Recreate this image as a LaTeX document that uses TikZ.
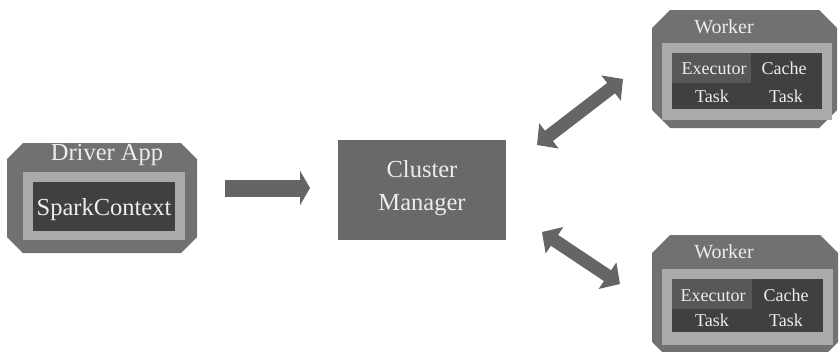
\documentclass[tikz,border=0pt]{standalone}
\usepackage{fontspec}
\setmainfont{Liberation Serif}
\newfontfamily\tnr{Liberation Serif}
\usetikzlibrary{arrows.meta}
\definecolor{outerg}{HTML}{717171}
\definecolor{frameg}{HTML}{AAAAAA}
\definecolor{darkg}{HTML}{404040}
\definecolor{execg}{HTML}{575757}
\definecolor{cmg}{HTML}{696969}
\definecolor{arrg}{HTML}{656565}
\definecolor{txtg}{HTML}{EDEDED}
\newcommand\octobox[6]{%
  \fill[#5] ({#1+#6},#2) -- ({#3-#6},#2) -- (#3,{#2+#6}) -- (#3,{#4-#6}) --
  ({#3-#6},#4) -- ({#1+#6},#4) -- (#1,{#4-#6}) -- (#1,{#2+#6}) -- cycle;}
\tikzset{
  lbl/.style={text=txtg, inner sep=0pt, anchor=base},
  big/.style={font=\tnr\fontsize{24.5}{30}\selectfont},
  mid/.style={font=\tnr\fontsize{20}{24}\selectfont},
  small/.style={font=\tnr\fontsize{18}{22}\selectfont},
  fatarrow/.style={draw=arrg, line width=17pt, -{Triangle[length=10pt,width=34pt]}},
  dblarrow/.style={draw=arrg, line width=13pt, {Triangle[length=15pt,width=31pt]}-{Triangle[length=15pt,width=31pt]}},
}
\begin{document}
\begin{tikzpicture}[x=1pt,y=-1pt]
\useasboundingbox[fill=white] (0,0) rectangle (840,351);
% Driver App
\octobox{7}{143}{197}{253}{outerg}{16}
\fill[frameg] (23,172) rectangle (185,240);
\fill[darkg] (33,182) rectangle (175,231);
\node[lbl,big] (drvlbl) at (107,160) {Driver App};
\node[lbl,big] (sc) at (104,215) {SparkContext};
% Cluster Manager
\node[fill=cmg, minimum width=168pt, minimum height=100pt, inner sep=0pt] (cm) at (422,190) {};
\node[lbl,big] (cm1) at (422,177) {Cluster};
\node[lbl,big] (cm2) at (422,210) {Manager};
% Worker top
\octobox{652}{10}{837}{128}{outerg}{18}
\fill[frameg] (662,43) rectangle (832,120);
\fill[darkg] (672,53) rectangle (822,109);
\fill[execg] (672,53) rectangle (751,83);
\node[lbl,mid] (w1) at (724,33) {Worker};
\node[lbl,small] (e1) at (714,74) {Executor};
\node[lbl,small] (c1) at (784,74) {Cache};
\node[lbl,small] (t1a) at (712,102) {Task};
\node[lbl,small] (t1b) at (786,102) {Task};
% Worker bottom
\octobox{652}{235}{838}{360}{outerg}{18}
\fill[frameg] (662,269) rectangle (833,345);
\fill[darkg] (672,279) rectangle (823,332);
\fill[execg] (672,279) rectangle (752,309);
\node[lbl,mid] (w2) at (724,258) {Worker};
\node[lbl,small] (e2) at (713,301) {Executor};
\node[lbl,small] (c2) at (786,301) {Cache};
\node[lbl,small] (t2a) at (712,326) {Task};
\node[lbl,small] (t2b) at (786,326) {Task};
% arrows
\coordinate (a0) at (225,188);
\coordinate (a1) at (310,188);
\draw[fatarrow] (a0) -- (a1);
\coordinate (u0) at (537,145);
\coordinate (u1) at (623,79);
\draw[dblarrow] (u0) -- (u1);
\coordinate (l0) at (542,232);
\coordinate (l1) at (620,284);
\draw[dblarrow] (l0) -- (l1);
\end{tikzpicture}
\end{document}
